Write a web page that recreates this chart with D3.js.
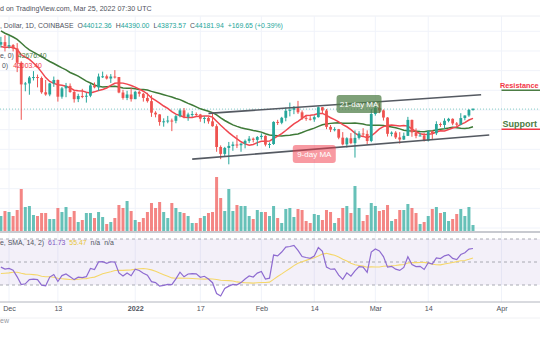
<!DOCTYPE html>
<html><head><meta charset="utf-8">
<script src="https://cdn.jsdelivr.net/npm/d3@7"></script>
<style>html,body{margin:0;padding:0;background:#fff;overflow:hidden}svg{display:block;font-family:"Liberation Sans",Arial,sans-serif}</style>
</head><body><svg id="c" width="540" height="340"></svg>
<script>
// ---------- DATA ----------
const startDate = "2021-11-29";
const opens = [57290,57800,56950,57200,56500,53600,49200,49400,50600,50700,50500,47600,47150,49400,50100,46700,48400,48900,47650,46200,46850,46700,46900,49000,48600,50800,50850,50400,50800,50700,47550,46450,47150,46200,47700,47300,46450,45800,43450,43100,41550,41700,41850,41800,42740,43920,42590,43100,43180,43090,42230,42380,41690,40700,36470,35070,36280,36690,36980,36830,37160,37720,38170,37920,38500,38740,36950,37080,41570,41400,42410,43840,44040,44390,43530,42400,42220,42080,42540,44560,43900,40560,40000,40090,38370,37010,38250,37250,38330,39220,39130,37700,43190,44420,43920,42460,39150,39400,38420,37990,38740,41980,39440,38730,38810,37780,39670,39280,41140,40950,41800,42200,41260,41000,42360,42880,44012.36];
const highs = [58870,59200,59050,57400,57600,53900,49700,50900,51900,51200,50800,50100,49500,50800,50200,48700,49500,49400,48000,47300,48300,47500,49300,49600,51400,51800,51200,51300,52100,50700,48100,47900,48500,47900,47950,47500,47500,47000,43750,43150,42300,42800,42250,43000,44300,44400,43450,43800,43500,43200,42700,42600,43500,41100,36800,36500,37500,37550,38900,37250,38000,38700,38400,38700,39250,38850,37400,41700,42000,42600,44500,45500,44800,45850,43900,43000,42750,42900,44700,44600,44200,40950,40500,40150,39500,38450,39300,39850,39700,40300,39850,44200,44950,45400,44100,42550,39650,39700,39500,39400,42600,42050,40250,39400,39300,39900,39880,41700,41450,42300,42400,42300,41550,43350,42900,44200,44390];
const lows = [56700,55900,56500,55900,51700,42000,47800,47100,50000,48600,47300,46900,46800,48700,45700,46300,46600,47500,45500,45600,46400,45500,46600,48400,47900,50500,50200,49500,50400,47400,46100,46000,45700,46200,46700,45700,45500,42600,42500,40800,40600,41300,39700,41300,42500,42300,41800,42600,42700,41600,41300,41200,40600,35500,34000,34600,32950,35700,36250,35500,36200,37300,37400,36650,38000,36600,36250,36900,40950,41100,41700,42700,43150,43200,42000,41800,41850,41600,42450,43300,40100,39500,39650,38050,36800,36350,37050,34320,38000,38600,37000,37450,42850,43350,41850,38600,38650,38100,37150,37900,38700,38550,38250,38700,37600,37580,38100,38900,40550,40150,41500,40900,40500,40900,41900,42600,43873.57];
const closes = [57800,56950,57200,56500,53600,49200,49400,50600,50700,50500,47600,47150,49400,50100,46700,48400,48900,47650,46200,46850,46700,46900,49000,48600,50800,50850,50400,50800,50700,47550,46450,47150,46200,47700,47300,46450,45800,43450,43100,41550,41700,41850,41800,42740,43920,42590,43100,43180,43090,42230,42380,41690,40700,36470,35070,36280,36690,36980,36830,37160,37720,38170,37920,38500,38740,36950,37080,41570,41400,42410,43840,44040,44390,43530,42400,42220,42080,42540,44560,43900,40560,40000,40090,38370,37010,38250,37250,38330,39220,39130,37700,43190,44420,43920,42460,39150,39400,38420,37990,38740,41980,39440,38730,38810,37780,39670,39280,41140,40950,41800,42200,41260,41000,42360,42880,44010,44181.94];
const volumes = [15,20,19,15,21,42,24,25,16,15,18,18,12,12,23,19,24,14,20,9,11,18,18,13,19,14,7,9,13,26,23,30,20,11,9,13,19,28,23,29,19,13,28,23,19,18,15,8,8,13,15,18,19,54,33,20,42,20,26,25,25,15,12,21,19,19,15,25,13,8,22,23,14,22,21,10,8,17,16,11,21,19,8,13,23,25,18,45,23,10,16,28,25,20,21,26,10,12,21,21,27,23,18,7,9,15,22,24,18,19,10,12,17,22,15,24,6];
// closes before the first visible day (indicator warm-up)
const priorCloses = [63100,60350,58450,60600,62250,61850,61300,61000,63250,62950,61450,61000,61500,63300,67550,66950,64900,64800,64150,64400,65500,63600,60100,60350,56900,58100,59700,58700,56300,57550,57150,58950,53750,54750,57290];
const tickDates = ["2021-12-01","2021-12-13","2022-01-01","2022-01-17","2022-02-01","2022-02-14","2022-03-01","2022-03-14","2022-04-01"];
const tickLabels = ["Dec","13","2022","17","Feb","14","Mar","14","Apr"];
const priceGrid = [20000,24000,28000,32000,36000,40000,44000,48000,52000,56000,60000];
const channelUpper = [["2022-01-19",43300],["2022-03-27",47100]];
const channelLower = [["2022-01-15",34000],["2022-03-29",38900]];
const resistanceLevel = 48000, supportLevel = 40100;
const maCallouts = [{text:"21-day MA", date:"2022-02-25", price:45200, kind:"slow"},{text:"9-day MA", date:"2022-02-14", price:35050, kind:"fast"}];
const header1 = "d on TradingView.com, Mar 25, 2022 07:30 UTC";
const symbolText = ", Dollar, 1D, COINBASE";
const ohlcLabels = [["O","44012.36"],["H","44390.00"],["L","43873.57"],["C","44181.94"]];
const changeText = "+169.65 (+0.39%)";
const maLegend = [["e, 0)","42676.40"],["0)","42003.40"]];
const rsiLegend = ["e, SMA, 14, 2)","61.73","55.47","n/a","n/a"];

// ---------- SCALES ----------
const W=540,H=340;
const svg=d3.select("#c");
const parse=d3.utcParse("%Y-%m-%d");
const t0=parse(startDate);
const dates=closes.map((_,i)=>d3.utcDay.offset(t0,i));
const x=d3.scaleUtc().domain([t0,parse("2022-03-25")]).range([0.9,473]);
const y=d3.scaleLinear().domain([20000,60000]).range([228,31.3]);
const yv=d3.scaleLinear().domain([0,55]).range([231,176]);
const yr=d3.scaleLinear().domain([30,70]).range([285,239]);

const UP="#26a69a",DN="#ef5350",GRID="#f0f3fa",TXT="#50535e";

// grid
svg.append("g").selectAll("line").data(priceGrid).join("line")
  .attr("x1",0).attr("x2",W).attr("y1",d=>y(d)).attr("y2",d=>y(d)).attr("stroke",GRID);
svg.append("line").attr("x1",0).attr("x2",W).attr("y1",16).attr("y2",16).attr("stroke","#eceef3");
svg.append("g").selectAll("line").data(tickDates).join("line")
  .attr("x1",d=>x(parse(d))).attr("x2",d=>x(parse(d))).attr("y1",16).attr("y2",302).attr("stroke",GRID);

// RSI background
svg.append("rect").attr("x",0).attr("width",W).attr("y",yr(70)).attr("height",yr(30)-yr(70)).attr("fill","rgba(126,87,194,0.09)");
svg.append("g").selectAll("line").data([70,50,30]).join("line")
  .attr("x1",0).attr("x2",W).attr("y1",d=>yr(d)).attr("y2",d=>yr(d))
  .attr("stroke","#9598a1").attr("stroke-dasharray","3,3").attr("stroke-width",0.8);

// volume
svg.append("g").selectAll("rect").data(volumes).join("rect")
  .attr("x",(d,i)=>x(dates[i])-1.5).attr("width",3)
  .attr("y",d=>yv(d)).attr("height",d=>yv(0)-yv(d))
  .attr("fill",(d,i)=>closes[i]>=opens[i]?"rgba(38,166,154,0.7)":"rgba(239,83,80,0.7)");
svg.append("line").attr("x1",0).attr("x2",W).attr("y1",232).attr("y2",232).attr("stroke","#c8cad0").attr("stroke-width",2);

// price line
svg.append("line").attr("x1",0).attr("x2",W).attr("y1",y(closes[closes.length-1])).attr("y2",y(closes[closes.length-1]))
  .attr("stroke",UP).attr("stroke-opacity",0.55).attr("stroke-dasharray","1,2");

// moving averages
function sma(arr,n,offset){return closes.map((_,i)=>{const j=i+offset;return d3.mean(arr.slice(j-n+1,j+1));});}
const all=priorCloses.concat(closes), off=priorCloses.length;
const ma9=sma(all,9,off), ma21=sma(all,21,off);
const line=d3.line().x((d,i)=>x(dates[i])).y(d=>y(d)).curve(d3.curveLinear);
svg.append("path").attr("d",line(ma21)).attr("fill","none").attr("stroke","#3f7a38").attr("stroke-width",1.5);
svg.append("path").attr("d",line(ma9)).attr("fill","none").attr("stroke","#f0464f").attr("stroke-width",1.5);

// candles
const cg=svg.append("g");
closes.forEach((c,i)=>{
  const o=opens[i],up=c>=o,col=up?UP:DN,cx=x(dates[i]);
  cg.append("line").attr("x1",cx).attr("x2",cx).attr("y1",y(highs[i])).attr("y2",y(lows[i])).attr("stroke",col).attr("stroke-width",1);
  const top=y(Math.max(o,c)),bot=y(Math.min(o,c));
  cg.append("rect").attr("x",cx-1.4).attr("width",2.8).attr("y",top).attr("height",Math.max(1,bot-top)).attr("fill",col);
});

// channel lines
[channelUpper,channelLower].forEach(seg=>{
  svg.append("line").attr("x1",x(parse(seg[0][0]))).attr("y1",y(seg[0][1]))
    .attr("x2",x(parse(seg[1][0]))).attr("y2",y(seg[1][1])).attr("stroke","#555a62").attr("stroke-width",1.6);
});

// resistance / support
const xa=x(parse("2022-04-01"));
svg.append("line").attr("x1",xa).attr("x2",W).attr("y1",y(resistanceLevel)).attr("y2",y(resistanceLevel)).attr("stroke","#4c7c44").attr("stroke-width",1.5);
svg.append("text").attr("x",xa-1.5).attr("y",y(resistanceLevel)-2.5).text("Resistance").attr("fill","#f23645").attr("font-size",7.3).attr("font-weight","bold");
svg.append("line").attr("x1",xa).attr("x2",W).attr("y1",y(supportLevel)).attr("y2",y(supportLevel)).attr("stroke","#f23645").attr("stroke-width",1.5);
svg.append("text").attr("x",xa+1).attr("y",y(supportLevel)-2.5).text("Support").attr("fill","#4c7c44").attr("font-size",9).attr("font-weight","bold");

// MA callouts
maCallouts.forEach(c=>{
  const cx=x(parse(c.date)),cy=y(c.price),w=c.kind==="slow"?45:43,h=18;
  svg.append("rect").attr("x",cx-w/2).attr("y",cy-h/2).attr("width",w).attr("height",h).attr("rx",3)
    .attr("fill",c.kind==="slow"?"rgba(76,124,68,0.72)":"rgba(242,54,69,0.5)");
  svg.append("text").attr("x",cx).attr("y",cy+3).attr("text-anchor","middle").text(c.text).attr("fill","#fff").attr("font-size",8);
});

// RSI
const rsiAll=new Array(all.length).fill(null);
let ag=0,al=0;
for(let i=1;i<=14;i++){const d=all[i]-all[i-1];if(d>0)ag+=d;else al-=d;}
ag/=14;al/=14;rsiAll[14]=100-100/(1+ag/al);
for(let i=15;i<all.length;i++){const d=all[i]-all[i-1];ag=(ag*13+Math.max(d,0))/14;al=(al*13+Math.max(-d,0))/14;rsiAll[i]=100-100/(1+ag/al);}
const rsi=closes.map((_,i)=>rsiAll[i+off]);
const rsiMa=closes.map((_,i)=>d3.mean(rsiAll.slice(i+off-13,i+off+1)));
const rl=d3.line().x((d,i)=>x(dates[i])).y(d=>yr(d));
svg.append("path").attr("d",rl(rsiMa)).attr("fill","none").attr("stroke","#f5d76a").attr("stroke-width",1.1);
svg.append("path").attr("d",rl(rsi)).attr("fill","none").attr("stroke","#8e6bd0").attr("stroke-width",1.2);

// x axis
svg.append("line").attr("x1",0).attr("x2",W).attr("y1",302).attr("y2",302).attr("stroke","#b2b5be");
const ax=d3.axisBottom(x).tickValues(tickDates.map(parse)).tickFormat((d,i)=>tickLabels[i]).tickSize(0).tickPadding(0);
const axg=svg.append("g").attr("transform","translate(0,306)").call(ax);
axg.select(".domain").remove();
axg.selectAll("text").attr("fill",TXT).attr("font-size",7.2).attr("font-family","Liberation Sans, Arial, sans-serif")
  .attr("font-weight",(d,i)=>tickLabels[i]==="2022"?"bold":"normal");
svg.append("line").attr("x1",0).attr("x2",W).attr("y1",318).attr("y2",318).attr("stroke","#f0f1f4");
svg.append("text").attr("x",0).attr("y",323).text("ew").attr("fill","#9598a1").attr("font-size",7);

// header texts
svg.append("text").attr("x",0).attr("y",10.5).text(header1).attr("fill",TXT).attr("font-size",7.1);
const h2=svg.append("text").attr("x",0).attr("y",27.5).attr("font-size",6.9);
h2.append("tspan").text(symbolText).attr("fill",TXT);
ohlcLabels.forEach(p=>{h2.append("tspan").attr("dx",4).text(p[0]).attr("fill",TXT);h2.append("tspan").text(p[1]).attr("fill",UP);});
h2.append("tspan").attr("dx",4).text(changeText).attr("fill",UP);

maLegend.forEach((m,k)=>{
  const t=svg.append("text").attr("x",k===0?0:2).attr("y",57.5+k*10).attr("font-size",6.9);
  t.append("tspan").text(m[0]).attr("fill",TXT);
  t.append("tspan").attr("dx",k===0?4:5).text(m[1]).attr("fill",k===0?"#4c7c44":"#f23645");
});
const rt=svg.append("text").attr("x",0).attr("y",244.5).attr("font-size",6.9);
rt.append("tspan").text(rsiLegend[0]).attr("fill",TXT);
rt.append("tspan").attr("dx",4).text(rsiLegend[1]).attr("fill","#7e57c2");
rt.append("tspan").attr("dx",4).text(rsiLegend[2]).attr("fill","#e8c53a");
rt.append("tspan").attr("dx",4).text(rsiLegend[3]).attr("fill",TXT);
rt.append("tspan").attr("dx",4).text(rsiLegend[4]).attr("fill",TXT);
</script></body></html>
